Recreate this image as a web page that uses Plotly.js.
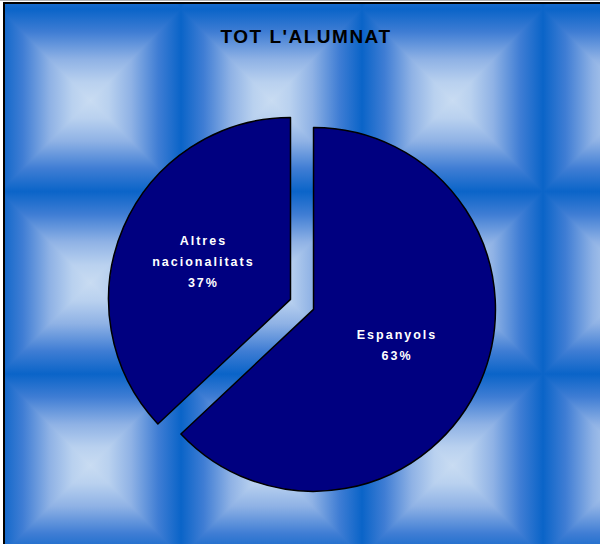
<!DOCTYPE html>
<html>
<head>
<meta charset="utf-8">
<script src="https://cdn.plot.ly/plotly-3.0.1.min.js"></script>
<style>
  html, body { margin: 0; padding: 0; width: 600px; height: 544px; overflow: hidden; background: #ffffff; }
  #bg { position: absolute; left: 0; top: 0; }
  #chart { position: absolute; left: 0; top: 0; width: 600px; height: 544px; }
</style>
</head>
<body>
<svg id="bg" width="600" height="544" xmlns="http://www.w3.org/2000/svg">
  <defs>
    <linearGradient id="gT" x1="0" y1="0" x2="0" y2="1">
      <stop offset="0" stop-color="#0a64c8"/><stop offset="0.25" stop-color="#3f7dd4"/><stop offset="0.55" stop-color="#8fb2e5"/><stop offset="0.8" stop-color="#b9d1ef"/><stop offset="1" stop-color="#c9dcf2"/>
    </linearGradient>
    <linearGradient id="gB" x1="0" y1="1" x2="0" y2="0">
      <stop offset="0" stop-color="#0a64c8"/><stop offset="0.25" stop-color="#3f7dd4"/><stop offset="0.55" stop-color="#8fb2e5"/><stop offset="0.8" stop-color="#b9d1ef"/><stop offset="1" stop-color="#c9dcf2"/>
    </linearGradient>
    <linearGradient id="gL" x1="0" y1="0" x2="1" y2="0">
      <stop offset="0" stop-color="#0a64c8"/><stop offset="0.25" stop-color="#3f7dd4"/><stop offset="0.55" stop-color="#8fb2e5"/><stop offset="0.8" stop-color="#b9d1ef"/><stop offset="1" stop-color="#c9dcf2"/>
    </linearGradient>
    <linearGradient id="gR" x1="1" y1="0" x2="0" y2="0">
      <stop offset="0" stop-color="#0a64c8"/><stop offset="0.25" stop-color="#3f7dd4"/><stop offset="0.55" stop-color="#8fb2e5"/><stop offset="0.8" stop-color="#b9d1ef"/><stop offset="1" stop-color="#c9dcf2"/>
    </linearGradient>
    <pattern id="tile" patternUnits="userSpaceOnUse" x="0" y="9" width="181" height="182.5">
      <rect x="0" y="0" width="181" height="91.5" fill="url(#gT)"/>
      <rect x="0" y="91" width="181" height="91.5" fill="url(#gB)"/>
      <polygon points="0,0 0,182.5 90.5,91.25" fill="url(#gL)"/>
      <polygon points="181,0 181,182.5 90.5,91.25" fill="url(#gR)"/>
    </pattern>
  </defs>
  <rect x="0" y="0" width="600" height="1" fill="#b4b4b4"/>
  <rect x="5" y="4" width="595" height="540" fill="url(#tile)"/>
  <rect x="3" y="2" width="2" height="542" fill="#000000"/>
  <rect x="3" y="2" width="597" height="2" fill="#000000"/>
</svg>
<div id="chart"></div>
<script>
  // Data
  var chartTitle = "TOT L'ALUMNAT";
  var categories = ['Espanyols', 'Altres nacionalitats'];
  var displayLabels = ['Espanyols', 'Altres<br>nacionalitats'];
  var shares = [63, 37];

  var labelStyle = "font-size:12.5px;letter-spacing:2px";

  var trace = {
    type: 'pie',
    labels: displayLabels,
    values: shares,
    sort: false,
    direction: 'clockwise',
    rotation: 0,
    pull: [0.069, 0.069],
    marker: { colors: ['#000080', '#000080'], line: { color: '#000000', width: 1.5 } },
    texttemplate: "<span style='" + labelStyle + "'>%{label}<br>%{percent}</span>",
    textposition: 'inside',
    insidetextorientation: 'horizontal',
    textfont: { family: 'Liberation Sans, Arial, sans-serif', size: 16, color: '#ffffff', weight: 'bold' },
    hoverinfo: 'none',
    domain: { x: [0.1792, 0.8275], y: [0.0829, 0.798] },
    showlegend: false
  };

  var layout = {
    width: 600,
    height: 544,
    margin: { l: 0, r: 0, t: 0, b: 0 },
    paper_bgcolor: 'rgba(0,0,0,0)',
    plot_bgcolor: 'rgba(0,0,0,0)',
    showlegend: false,
    title: {
      text: '<span style="letter-spacing:1.5px">' + chartTitle + '</span>',
      font: { family: 'Liberation Sans, Arial, sans-serif', size: 19, color: '#000000', weight: 'bold' },
      x: 0.51, xanchor: 'center', xref: 'paper',
      y: 1 - 36.5 / 544, yanchor: 'middle', yref: 'container'
    }
  };

  Plotly.newPlot('chart', [trace], layout, { staticPlot: true, displayModeBar: false });
</script>
</body>
</html>
